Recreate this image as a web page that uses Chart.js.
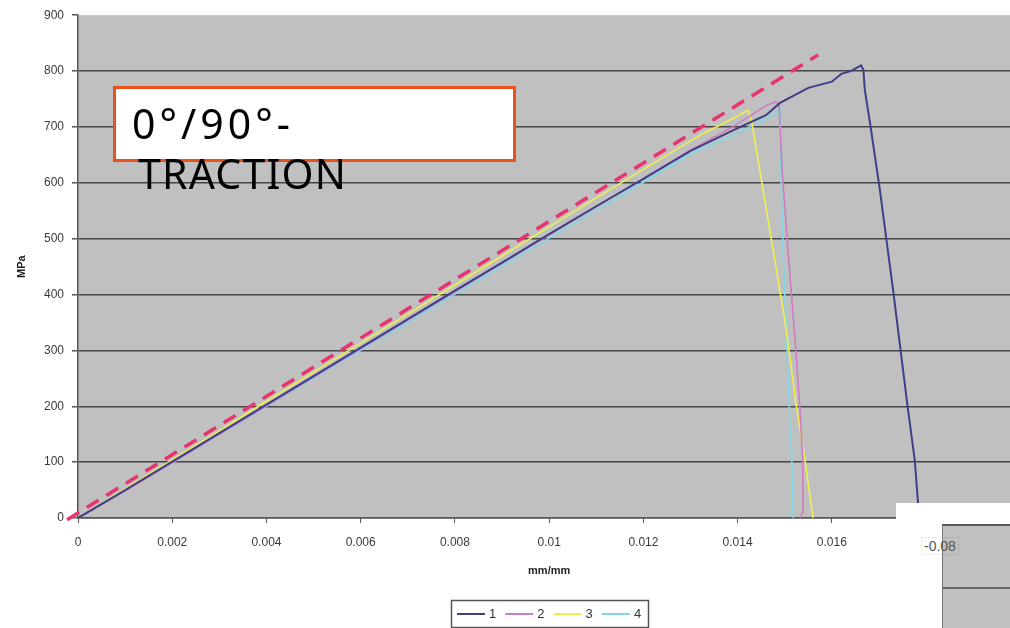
<!DOCTYPE html>
<html>
<head>
<meta charset="utf-8">
<script src="https://cdn.jsdelivr.net/npm/chart.js@4/dist/chart.umd.min.js"></script>
<style>
  html, body { margin: 0; padding: 0; background: #fff; overflow: hidden; width: 1010px; height: 628px; }
  #wrap { position: absolute; left: 0; top: 0; width: 1044px; height: 628px; }
  #note {
    position: absolute; left: 113px; top: 86px; width: 381px; height: 61px;
    border: 3px solid #e8501c; background: #fff;
    font-family: "Noto Sans", sans-serif; font-size: 41px; line-height: 50px;
    letter-spacing: 1.2px; color: #000; padding: 9px 0 0 16px; box-sizing: content-box;
    white-space: nowrap;
  }
  #note span { display: block; }
  #note .l1 { letter-spacing: 4px; }
  #note .l2 { margin-left: 6px; }
  #inset { position: absolute; left: 896px; top: 503px; width: 114px; height: 125px; background: #fff; }
  #inset .panel { position: absolute; left: 46px; top: 21px; right: 0; bottom: 0; background: #c0c0c0;
    border-top: 2px solid #555; border-left: 1.5px solid #777; }
  #inset .rule { position: absolute; left: 46px; right: 0; top: 84px; height: 2px; background: #666; }
  #inset .lbl { position: absolute; left: 25px; top: 34px; font: 14px "Liberation Sans", Arial, sans-serif;
    color: #555; border: 1px dotted rgba(0,0,0,0.12); padding: 0 2px; }
</style>
</head>
<body>
<div id="wrap"><canvas id="grafico" width="1044" height="628"></canvas></div>
<div id="note"><span class="l1">0°/90°-</span><span class="l2">TRACTION</span></div>
<div id="inset"><div class="panel"></div><div class="rule"></div><span class="lbl">-0.08</span></div>
<script>
// strain (mm/mm) vs stress (MPa)
const strain1 = [0, 0.001, 0.002, 0.003, 0.004, 0.005, 0.006, 0.007, 0.008, 0.009, 0.010, 0.011, 0.012, 0.013, 0.0139, 0.0146, 0.0149, 0.0155, 0.0160, 0.0162, 0.0164, 0.01662, 0.01667, 0.01670, 0.01681, 0.01702, 0.01716, 0.01730, 0.01744, 0.01759, 0.01776, 0.01783, 0.01786];
const stress1 = [0, 50, 101, 152, 203, 254, 305, 356, 407, 457, 508, 558, 607, 657, 694, 721, 743, 770, 781, 795, 800, 810, 802, 766, 707, 587, 497, 408, 313, 211, 103, 26, 0];

const strain2 = [0, 0.001, 0.002, 0.003, 0.004, 0.005, 0.006, 0.007, 0.008, 0.009, 0.010, 0.011, 0.012, 0.013, 0.0139, 0.01462, 0.01481, 0.01488, 0.01494, 0.01508, 0.01522, 0.01532, 0.01538, 0.01539, 0.01533];
const stress2 = [0, 48, 99, 150, 201, 252, 303, 354, 405, 456, 507, 557, 608, 659, 700, 739, 745, 739, 629, 467, 318, 199, 109, 13, 0];

const strain3 = [0, 0.001, 0.002, 0.003, 0.004, 0.005, 0.006, 0.007, 0.008, 0.009, 0.010, 0.011, 0.012, 0.013, 0.0132, 0.0139, 0.01422, 0.0143, 0.01448, 0.01472, 0.01501, 0.01525, 0.01543, 0.01557, 0.0156];
const stress3 = [0, 52, 104, 156, 209, 261, 313, 365, 417, 469, 521, 573, 624, 675, 685, 715, 730, 709, 617, 497, 349, 199, 103, 19, 0];

const strain4 = [0, 0.001, 0.002, 0.003, 0.004, 0.005, 0.006, 0.007, 0.008, 0.009, 0.010, 0.011, 0.012, 0.013, 0.0139, 0.01462, 0.0149, 0.01491, 0.01497, 0.01504, 0.01511, 0.01515, 0.01517, 0.01518];
const stress4 = [0, 49, 99, 149, 200, 250, 300, 350, 401, 451, 501, 551, 601, 652, 685, 715, 731, 647, 467, 318, 169, 109, 13, 0];

// dashed reference line (two end points)
const refStrain = [-0.00023, 0.01571];
const refStress = [-3, 829];

const seriesLabels = ['1', '2', '3', '4'];
const seriesColors = ['#3f3f88', '#cf7cc4', '#eeee50', '#80d8e6'];

const xTicks = [0, 0.002, 0.004, 0.006, 0.008, 0.01, 0.012, 0.014, 0.016, 0.018, 0.02];
const xTickLabels = ['0', '0.002', '0.004', '0.006', '0.008', '0.01', '0.012', '0.014', '0.016', '0.018', '0.02'];
const yTicks = [0, 100, 200, 300, 400, 500, 600, 700, 800, 900];
const yTickLabels = ['0', '100', '200', '300', '400', '500', '600', '700', '800', '900'];

function pontos(xs, ys) {
  return xs.map((x, i) => ({ x: x, y: ys[i] }));
}

const fundo = {
  id: 'fundo',
  beforeDraw(chart) {
    const { ctx, chartArea: a } = chart;
    ctx.save();
    ctx.fillStyle = '#c0c0c0';
    ctx.fillRect(a.left, a.top, a.right - a.left, a.bottom - a.top);
    ctx.restore();
  }
};

// legend in a box below the axis title
const legendaCaixa = {
  id: 'legendaCaixa',
  afterDraw(chart) {
    const ctx = chart.ctx;
    const x0 = 451, y0 = 600, w = 197, h = 27;
    ctx.save();
    ctx.strokeStyle = '#555';
    ctx.lineWidth = 1.5;
    ctx.strokeRect(x0 + 0.5, y0 + 0.5, w, h);
    ctx.font = '13px "Liberation Sans", Arial, sans-serif';
    ctx.textBaseline = 'middle';
    const cy = y0 + 14;
    chart.data.datasets.filter(d => d.legenda).forEach((d, i) => {
      const sx = x0 + 6 + i * 48.3;
      ctx.strokeStyle = d.borderColor;
      ctx.lineWidth = 2;
      ctx.beginPath();
      ctx.moveTo(sx, cy);
      ctx.lineTo(sx + 28, cy);
      ctx.stroke();
      ctx.fillStyle = '#333';
      ctx.fillText(d.label, sx + 32, cy);
    });
    ctx.restore();
  }
};

const datasets = [strain1, strain2, strain3, strain4].map((xs, i) => ({
  label: seriesLabels[i],
  legenda: true,
  data: pontos(xs, [stress1, stress2, stress3, stress4][i]),
  borderColor: seriesColors[i],
  borderWidth: i === 0 ? 2 : 1.6,
  pointRadius: 0,
  tension: 0,
  fill: false
}));
datasets.push({
  label: '',
  legenda: false,
  data: pontos(refStrain, refStress),
  borderColor: '#e8336e',
  borderWidth: 3.5,
  borderDash: [14, 9],
  pointRadius: 0,
  fill: false,
  clip: false
});

const grafico = new Chart(document.getElementById('grafico').getContext('2d'), {
  type: 'line',
  data: { datasets: datasets },
  options: {
    responsive: false,
    animation: false,
    devicePixelRatio: 1,
    layout: { padding: { left: 0, right: 16, top: 15, bottom: 0 } },
    plugins: { legend: { display: false }, tooltip: { enabled: false } },
    scales: {
      x: {
        type: 'linear',
        min: 0,
        max: 0.02,
        afterBuildTicks: s => { s.ticks = xTicks.map(v => ({ value: v })); },
        afterFit: s => { s.height = 110; },
        ticks: {
          autoSkip: false,
          maxRotation: 0,
          padding: 12,
          color: '#3a3a3a',
          font: { family: '"Liberation Sans", Arial, sans-serif', size: 12 },
          callback: (v, i) => xTickLabels[i]
        },
        grid: { drawOnChartArea: false, drawTicks: true, tickLength: 5, tickColor: '#555' },
        border: { color: '#555', width: 1.5 },
        title: {
          display: true,
          text: 'mm/mm',
          color: '#222',
          font: { family: '"Liberation Sans", Arial, sans-serif', size: 11, weight: 'bold' },
          padding: { top: 0, bottom: 50 }
        }
      },
      y: {
        min: 0,
        max: 900,
        afterBuildTicks: s => { s.ticks = yTicks.map(v => ({ value: v })); },
        afterFit: s => { s.width = 78; },
        ticks: {
          padding: 8,
          color: '#3a3a3a',
          font: { family: '"Liberation Sans", Arial, sans-serif', size: 12 },
          callback: (v, i) => yTickLabels[i]
        },
        grid: {
          color: c => (c.tick && c.tick.value === 900) ? 'rgba(0,0,0,0)' : '#454545',
          lineWidth: 1.5,
          tickLength: 6,
          tickColor: '#555'
        },
        border: { color: '#555', width: 1.5 },
        title: {
          display: true,
          text: 'MPa',
          color: '#222',
          font: { family: '"Liberation Sans", Arial, sans-serif', size: 11, weight: 'bold' },
          padding: { top: 15, bottom: 0 }
        }
      }
    }
  },
  plugins: [fundo, legendaCaixa]
});
</script>
</body>
</html>
